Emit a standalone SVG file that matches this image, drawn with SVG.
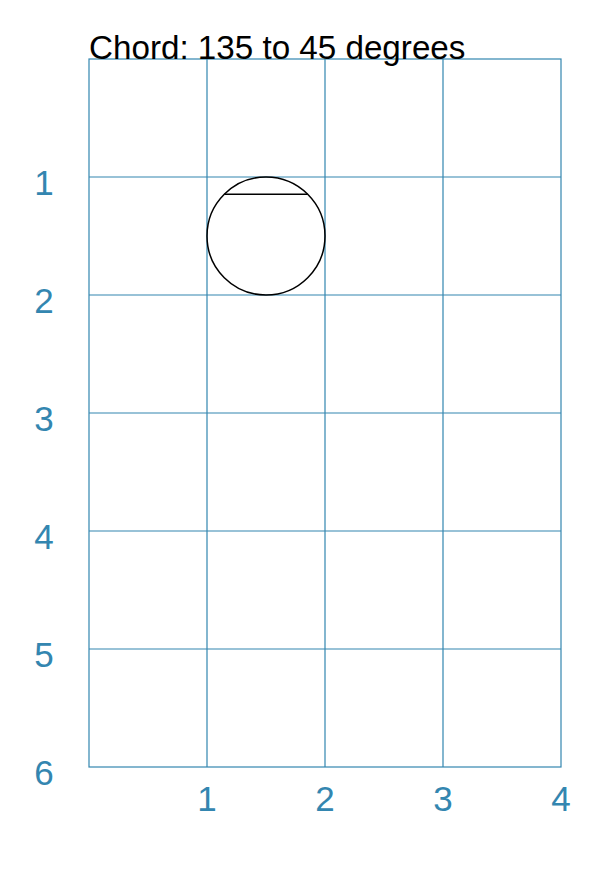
<svg xmlns="http://www.w3.org/2000/svg" width="613" height="875" viewBox="0 0 613 875">
<style>
.g{stroke:#3386B0;stroke-width:1.2;fill:none}
.lab{fill:#3386B0;font-family:"Liberation Sans",Arial,sans-serif;font-size:35px;text-anchor:middle}
.title{fill:#000;font-family:"Liberation Sans",Arial,sans-serif;font-size:33.2px}
.shape{stroke:#000;stroke-width:1.5;fill:none}
</style>
<rect width="613" height="875" fill="#fff"/>
<g id="grid">
<rect class="g" x="89" y="59" width="472" height="708"/>
<path class="g" d="M207 59V767M325 59V767M443 59V767M89 177H561M89 295H561M89 413H561M89 531H561M89 649H561"/>
</g>
<g id="ylabels">
<text class="lab" x="44" y="195">1</text>
<text class="lab" x="44" y="313">2</text>
<text class="lab" x="44" y="431">3</text>
<text class="lab" x="44" y="549">4</text>
<text class="lab" x="44" y="667">5</text>
<text class="lab" x="44" y="785">6</text>
</g>
<g id="xlabels">
<text class="lab" x="207" y="811">1</text>
<text class="lab" x="325" y="811">2</text>
<text class="lab" x="443" y="811">3</text>
<text class="lab" x="561" y="811">4</text>
</g>
<g id="circle">
<circle class="shape" cx="266" cy="236" r="59"/>
<line class="shape" x1="224.3" y1="194.3" x2="307.7" y2="194.3"/>
</g>
<text class="title" x="89" y="59">Chord: 135 to 45 degrees</text>
</svg>
